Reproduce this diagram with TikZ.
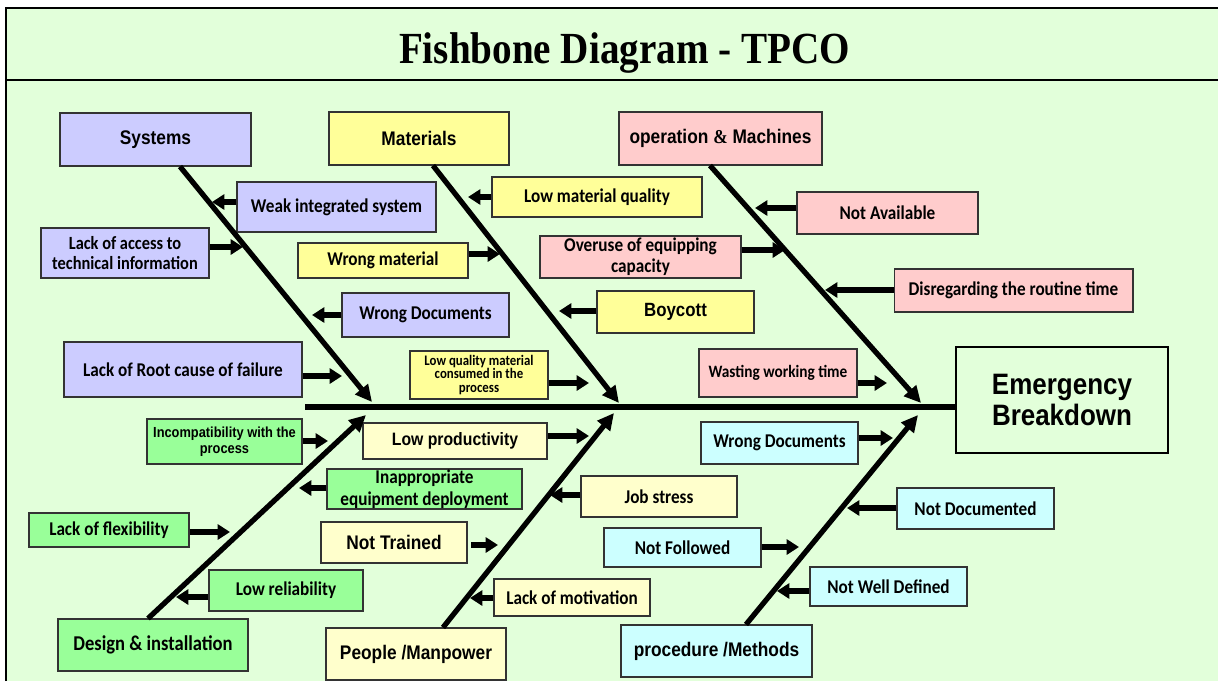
\documentclass[tikz,border=0pt]{standalone}
\usepackage{fontspec}
\usepackage{tikz}
\usetikzlibrary{arrows.meta,positioning,calc}
\newfontfamily\calfnt{Carlito}[FakeStretch=0.88]
\newfontfamily\arlfnt{Liberation Sans}[FakeStretch=0.88]
\newfontfamily\tmsfnt{Liberation Serif}[FakeStretch=0.88]
\definecolor{bgcol}{RGB}{226,255,218}
\definecolor{syscol}{RGB}{204,204,255}
\definecolor{matcol}{RGB}{255,255,153}
\definecolor{maccol}{RGB}{255,204,204}
\definecolor{descol}{RGB}{153,255,153}
\definecolor{pplcol}{RGB}{255,255,204}
\definecolor{metcol}{RGB}{204,255,255}

\begin{document}
\begin{tikzpicture}[x=0.02cm, y=-0.02cm, >=Stealth,
  box/.style={draw=black!80, line width=0.6pt, inner sep=0pt, align=center},
  cat/.style={box, font=\arlfnt\bfseries\fontsize{11.2}{13}\selectfont},
  sub/.style={box, font=\calfnt\bfseries\fontsize{11.1}{12}\selectfont},
  wh/.style 2 args={minimum width=#1cm, minimum height=#2cm},
  bone/.style={line width=3pt, -{Triangle[length=9.5pt,width=9pt]}},
  cause/.style={line width=3pt, -{Triangle[length=7pt,width=8.5pt]}}]
\useasboundingbox (0,0) rectangle (1218,681);
\fill[bgcol] (6,8) rectangle (1218,681);
\draw[line width=1.5pt] (6,681) -- (6,8) -- (1218,8);
\draw[line width=1.5pt] (6,80) -- (1218,80);
\node[anchor=base, font=\tmsfnt\bfseries\fontsize{25.3}{28}\selectfont] (title) at (624.5,63) {Fishbone Diagram - TPCO};

% head of the fish
\node[draw, line width=1.5pt, wh={4.24}{2.12}, align=center, font=\arlfnt\bfseries\fontsize{16.8}{18}\selectfont] (effect) at (1062,400) {Emergency\\Breakdown};

% main categories
\node[cat, fill=syscol, wh={3.82}{1.06}] (sys) at (155.5,139.5) {Systems};
\node[cat, fill=matcol, wh={3.6}{1.06}] (mat) at (419,138.5) {Materials};
\node[cat, fill=maccol, wh={4.06}{1.06}] (mac) at (720.5,138.5) {operation {\tmsfnt\&} Machines};
\node[cat, fill=descol, wh={3.8}{1.04}, font=\calfnt\bfseries\fontsize{12}{14}\selectfont] (des) at (153,645) {Design \& installation};
\node[cat, fill=pplcol, wh={3.6}{1.04}] (ppl) at (416,654) {People /Manpower};
\node[cat, fill=metcol, wh={3.82}{1.04}] (met) at (716.5,651) {procedure /Methods};

% systems
\node[sub, fill=syscol, wh={3.98}{1}] (weak) at (336.5,207) {Weak integrated system};
\node[sub, fill=syscol, wh={3.36}{1}, font=\calfnt\bfseries\fontsize{10.6}{11.9}\selectfont] (access) at (125,253) {Lack of access to\\technical information};
\node[sub, fill=syscol, wh={3.34}{0.88}] (wdoc) at (425.5,315) {Wrong Documents};
\node[sub, fill=syscol, wh={4.76}{1.1}] (root) at (183,369.5) {Lack of Root cause of failure};

% materials
\node[sub, fill=matcol, wh={4.2}{0.8}] (lowq) at (597,197) {Low material quality};
\node[sub, fill=matcol, wh={3.4}{0.7}] (wmat) at (383,260.5) {Wrong material};
\node[sub, fill=matcol, wh={3.14}{0.84}, font=\arlfnt\bfseries\fontsize{10.9}{12}\selectfont] (boy) at (675.5,312) {Boycott};
\node[sub, fill=matcol, wh={2.76}{0.96}, font=\calfnt\bfseries\fontsize{8.3}{7.9}\selectfont] (lqm) at (479,375) {Low quality material\\consumed in the\\process};

% operation and machines
\node[sub, fill=maccol, wh={3.62}{0.84}] (navail) at (887.5,213) {Not Available};
\node[sub, fill=maccol, wh={4.02}{0.84}] (overuse) at (640.5,257) {Overuse of equipping\\capacity};
\node[sub, fill=maccol, wh={4.78}{0.86}] (disreg) at (1013.5,290.5) {Disregarding the routine time};
\node[sub, fill=maccol, wh={3.16}{0.96}, font=\calfnt\bfseries\fontsize{9.9}{12}\selectfont] (waste) at (778,373) {Wasting working time};

% design and installation
\node[sub, fill=descol, wh={3.1}{0.9}, font=\arlfnt\bfseries\fontsize{8.3}{9.1}\selectfont] (incomp) at (224.5,441.5) {Incompatibility with the\\process};
\node[sub, fill=descol, wh={3.9}{0.8}, font=\calfnt\bfseries\fontsize{11.1}{12.5}\selectfont] (inappr) at (424.5,489) {Inappropriate\\equipment deployment};
\node[sub, fill=descol, wh={3.2}{0.68}] (flex) at (109,530) {Lack of flexibility};
\node[sub, fill=descol, wh={3.08}{0.82}] (reliab) at (286,590.5) {Low reliability};

% people
\node[sub, fill=pplcol, wh={3.68}{0.72}, font=\arlfnt\bfseries\fontsize{10.2}{12}\selectfont] (lowprod) at (455,441) {Low productivity};
\node[sub, fill=pplcol, wh={3.12}{0.82}] (stress) at (659,496.5) {Job stress};
\node[sub, fill=pplcol, wh={2.92}{0.82}, font=\arlfnt\bfseries\fontsize{11.2}{12}\selectfont] (ntrain) at (394,542.5) {Not Trained};
\node[sub, fill=pplcol, wh={3.12}{0.74}] (motiv) at (572,597.5) {Lack of motivation};

% methods
\node[sub, fill=metcol, wh={3.14}{0.84}] (wdoc2) at (779.5,443) {Wrong Documents};
\node[sub, fill=metcol, wh={3.14}{0.78}] (nfollow) at (682.5,547.5) {Not Followed};
\node[sub, fill=metcol, wh={3.14}{0.82}] (ndoc) at (975.5,508.5) {Not Documented};
\node[sub, fill=metcol, wh={3.14}{0.78}] (nwell) at (888.5,586.5) {Not Well Defined};

% spine and bones
\coordinate (tail) at (305,407);
\draw[line width=3.3pt] (tail) -- (tail -| effect.west);
\coordinate (hsys) at (372,402); \coordinate (hmat) at (619,403); \coordinate (hmac) at (921,403);
\coordinate (hdes) at (366,415); \coordinate (hppl) at (614,413); \coordinate (hmet) at (918,415);
\draw[bone] ([xshift=0.49cm]sys.south) -- (hsys);
\draw[bone] ([xshift=0.28cm]mat.south) -- (hmat);
\draw[bone] ([xshift=-0.21cm]mac.south) -- (hmac);
\draw[bone] ([xshift=-0.1cm]des.north) -- (hdes);
\draw[bone] ([xshift=0.54cm]ppl.north) -- (hppl);
\draw[bone] ([xshift=0.59cm]met.north) -- (hmet);

% small arrows onto the bones
\coordinate (tweak) at (212,202); \coordinate (taccess) at (243,247);
\coordinate (twdoc) at (312,315); \coordinate (troot) at (342,376);
\draw[cause] (weak.west |- tweak) -- (tweak); \draw[cause] (access.east |- taccess) -- (taccess);
\draw[cause] (wdoc.west |- twdoc) -- (twdoc); \draw[cause] (root.east |- troot) -- (troot);
\coordinate (tlowq) at (468,197); \coordinate (twmat) at (500,254);
\coordinate (tboy) at (559,311); \coordinate (tlqm) at (589,383);
\draw[cause] (lowq.west |- tlowq) -- (tlowq); \draw[cause] (wmat.east |- twmat) -- (twmat);
\draw[cause] (boy.west |- tboy) -- (tboy); \draw[cause] (lqm.east |- tlqm) -- (tlqm);
\coordinate (tnavail) at (755,208); \coordinate (toveruse) at (785,250);
\coordinate (tdisreg) at (825,290); \coordinate (twaste) at (887,383);
\draw[cause] (navail.west |- tnavail) -- (tnavail); \draw[cause] (overuse.east |- toveruse) -- (toveruse);
\draw[cause] (disreg.west |- tdisreg) -- (tdisreg); \draw[cause] (waste.east |- twaste) -- (twaste);
\coordinate (tincomp) at (328,441); \coordinate (tinappr) at (299,488);
\coordinate (tflex) at (230,532); \coordinate (treliab) at (176,597);
\draw[cause] (incomp.east |- tincomp) -- (tincomp); \draw[cause] (inappr.west |- tinappr) -- (tinappr);
\draw[cause] (flex.east |- tflex) -- (tflex); \draw[cause] (reliab.west |- treliab) -- (treliab);
\coordinate (tlowprod) at (589,436); \coordinate (tstress) at (550,495);
\coordinate (tntrain) at (498,545); \coordinate (tmotiv) at (470,598);
\draw[cause] (lowprod.east |- tlowprod) -- (tlowprod); \draw[cause] (stress.west |- tstress) -- (tstress);
\draw[cause, shorten <=2pt] (ntrain.east |- tntrain) -- (tntrain); \draw[cause] (motiv.west |- tmotiv) -- (tmotiv);
\coordinate (twdoc2) at (893,438); \coordinate (tnfollow) at (799,547);
\coordinate (tndoc) at (847,508); \coordinate (tnwell) at (777,591);
\draw[cause] (wdoc2.east |- twdoc2) -- (twdoc2); \draw[cause] (nfollow.east |- tnfollow) -- (tnfollow);
\draw[cause] (ndoc.west |- tndoc) -- (tndoc); \draw[cause] (nwell.west |- tnwell) -- (tnwell);
\end{tikzpicture}
\end{document}
